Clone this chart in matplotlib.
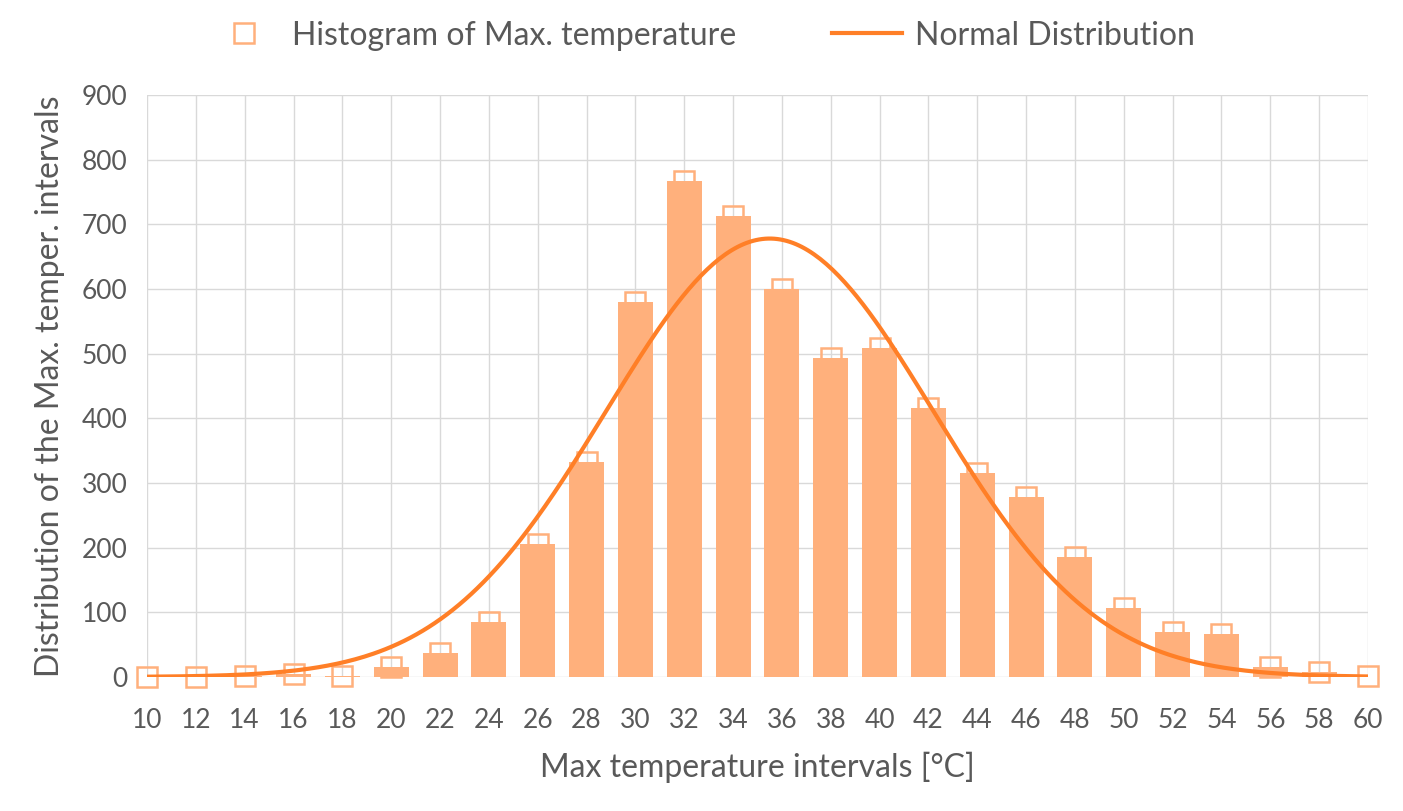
import numpy as np
import matplotlib
matplotlib.use("Agg")
import matplotlib.pyplot as plt

plt.rcParams["font.family"] = ["Lato", "DejaVu Sans"]

temps = [10, 12, 14, 16, 18, 20, 22, 24, 26, 28, 30, 32, 34, 36, 38, 40,
         42, 44, 46, 48, 50, 52, 54, 56, 58, 60]
counts = [0, 0, 1, 5, 2, 15, 37, 85, 205, 332, 580, 767, 713, 600, 494, 508,
          416, 316, 279, 185, 106, 70, 66, 15, 8, 2]
# fitted normal distribution parameters
fit_mean = 35.5
fit_sd = 6.7
fit_peak = 678

bar_color = "#ffb07c"
line_color = "#ff7f27"
text_color = "#595959"

fig = plt.figure(figsize=(14.03, 8.11), dpi=100)
ax = fig.add_axes([147 / 1403, 1 - 677 / 811, (1368 - 147) / 1403, (677 - 95) / 811])

ax.bar(temps, counts, width=1.43, color=bar_color, zorder=2)
ax.plot(temps, counts, linestyle="none", marker="s", markersize=14,
        markerfacecolor="none", markeredgecolor=bar_color, markeredgewidth=1.8,
        zorder=3, clip_on=False, label="Histogram of Max. temperature")
xs = np.linspace(10, 60, 400)
ys = fit_peak * np.exp(-0.5 * ((xs - fit_mean) / fit_sd) ** 2)
ax.plot(xs, ys, color=line_color, linewidth=3, zorder=4, label="Normal Distribution")

ax.set_xlim(10, 60)
ax.set_ylim(0, 900)
ax.set_xticks(temps)
ax.set_yticks(range(0, 901, 100))
ax.grid(True, color="#d9d9d9", linewidth=1, zorder=0)
ax.set_axisbelow(True)
for s in ax.spines.values():
    s.set_visible(False)
ax.tick_params(length=0, labelsize=19, colors=text_color)
ax.tick_params(axis="x", pad=22)
ax.tick_params(axis="y", pad=14)
ax.set_xlabel("Max temperature intervals [°C]", fontsize=23, color=text_color, labelpad=14)
ax.set_ylabel("Distribution of the Max. temper. intervals", fontsize=23,
              color=text_color, labelpad=12)

fig.legend(loc="upper center", bbox_to_anchor=(0.5, 1.01), ncol=2, frameon=False,
           fontsize=23, labelcolor=text_color, columnspacing=3, handlelength=2.2,
           handletextpad=0.4)

fig.savefig("out.png", dpi=100)
